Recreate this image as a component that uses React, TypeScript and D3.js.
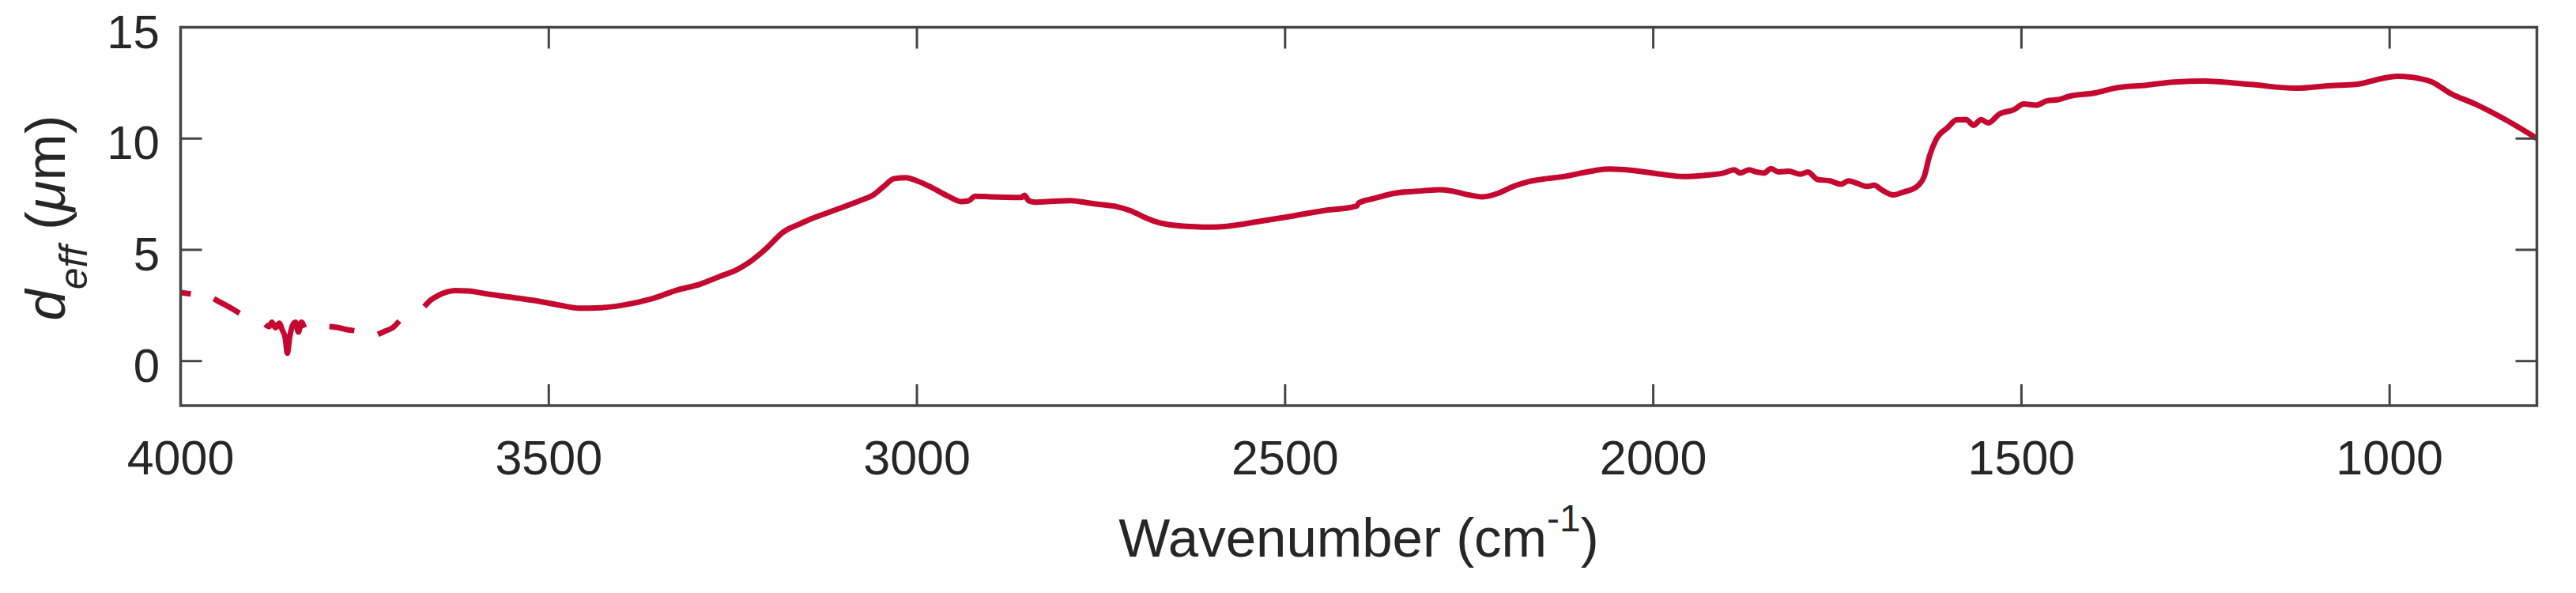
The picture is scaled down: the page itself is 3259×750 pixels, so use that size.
import React from "react";
import * as d3 from "d3";

// ---- data (wavenumber in cm^-1, d_eff in µm); NaN marks gaps in the measured trace ----
const wavenumber: number[] = [
  4000, 3986, 3980,
  3955, 3945, 3938, 3930, 3920, 3905,
  3885, 3880, 3876, 3871, 3866, 3862, 3858, 3855, 3852, 3848, 3844, 3840, 3836, 3832, 3815,
  3798, 3785, 3775, 3764, 3750,
  3732, 3722, 3712, 3703, 3690,
  3669, 3660, 3650, 3637, 3627, 3610, 3580, 3540, 3502, 3480, 3459, 3430, 3402, 3360, 3325,
  3295, 3268, 3245, 3230, 3205, 3181, 3160, 3143, 3110, 3076, 3060, 3045, 3031, 3015, 3000,
  2980, 2957, 2940, 2930, 2921, 2900, 2880, 2858, 2854, 2848, 2839, 2815, 2792, 2770, 2750,
  2729, 2710, 2690, 2672, 2650, 2630, 2609, 2590, 2567, 2540, 2490, 2450, 2403, 2400, 2380,
  2350, 2313, 2290, 2275, 2255, 2232, 2210, 2190, 2170, 2145, 2122, 2090, 2059, 2026, 1990,
  1959, 1930, 1905, 1890, 1882, 1870, 1860, 1850, 1840, 1830, 1816, 1800, 1790, 1777, 1760,
  1745, 1735, 1724, 1710, 1700, 1690, 1674, 1660, 1650, 1640, 1632, 1625, 1616, 1600, 1588,
  1575, 1565, 1555, 1545, 1530, 1510, 1497, 1480, 1465, 1450, 1435, 1400, 1374, 1330, 1292,
  1251, 1189, 1127, 1079, 1046, 1010, 990, 960, 943, 918, 883, 840, 800,
];
const deff: number[] = [
  3.08, 3.02, NaN,
  2.8, 2.62, 2.5, 2.35, 2.15, NaN,
  1.65, 1.55, 1.75, 1.5, 1.7, 1.4, 1.05, 0.35, 1.05, 1.6, 1.75, 1.3, 1.75, 1.5, NaN,
  1.55, 1.5, 1.42, 1.37, NaN,
  1.2, 1.35, 1.5, 1.8, NaN,
  2.45, 2.75, 2.95, 3.12, 3.17, 3.15, 3.0, 2.82, 2.62, 2.48, 2.38, 2.4, 2.5, 2.8, 3.2,
  3.45, 3.8, 4.1, 4.39, 5.05, 5.81, 6.15, 6.4, 6.8, 7.23, 7.45, 7.85, 8.2, 8.24, 8.1,
  7.8, 7.4, 7.17, 7.2, 7.41, 7.38, 7.36, 7.35, 7.45, 7.2, 7.14, 7.18, 7.21, 7.12, 7.03,
  6.94, 6.76, 6.45, 6.23, 6.1, 6.05, 6.02, 6.03, 6.11, 6.25, 6.52, 6.75, 6.97, 7.1, 7.3,
  7.55, 7.65, 7.7, 7.65, 7.5, 7.38, 7.55, 7.85, 8.06, 8.2, 8.29, 8.5, 8.63, 8.56, 8.4,
  8.29, 8.35, 8.45, 8.6, 8.45, 8.6, 8.5, 8.45, 8.65, 8.5, 8.53, 8.4, 8.5, 8.16, 8.1,
  7.95, 8.1, 8.0, 7.85, 7.9, 7.7, 7.47, 7.6, 7.7, 7.9, 8.3, 9.2, 9.95, 10.5, 10.84,
  10.85, 10.6, 10.85, 10.7, 11.1, 11.3, 11.55, 11.5, 11.7, 11.75, 11.9, 12.05, 12.26, 12.4, 12.54,
  12.58, 12.43, 12.26, 12.38, 12.43, 12.7, 12.8, 12.7, 12.55, 12.04, 11.54, 10.8, 10.01,
];
const xTicks: number[] = [4000, 3500, 3000, 2500, 2000, 1500, 1000];
const yTicks: number[] = [0, 5, 10, 15];
const xDomain: [number, number] = [4000, 800];
const yDomain: [number, number] = [-2, 15];

const W = 3259;
const H = 750;
const M = { left: 228.5, right: 3209.5, top: 34.5, bottom: 513 };
const FONT = "'Liberation Sans', Arial, Helvetica, sans-serif";
const AXIS = "#454545";
const TEXT = "#262626";
const RED = "#C5082F";

export default function App() {
  const x = d3.scaleLinear().domain(xDomain).range([M.left, M.right]);
  const y = d3.scaleLinear().domain(yDomain).range([M.bottom, M.top]);
  const pts = wavenumber.map((w, i) => [w, deff[i]] as [number, number]);
  const line = d3
    .line<[number, number]>()
    .defined((d) => !isNaN(d[1]))
    .x((d) => x(d[0]))
    .y((d) => y(d[1]))
    .curve(d3.curveMonotoneX);
  const tickLen = 27;

  return (
    <svg
      width={W}
      height={H}
      style={{ position: "absolute", left: 0, top: 0, background: "#fff" }}
      fontFamily={FONT}
    >
      <rect x={0} y={0} width={W} height={H} fill="#fff" />
      {/* data */}
      <path
        d={line(pts) || ""}
        fill="none"
        stroke={RED}
        strokeWidth={7}
        strokeLinejoin="round"
        strokeLinecap="butt"
      />
      {/* box */}
      <rect
        x={M.left}
        y={M.top}
        width={M.right - M.left}
        height={M.bottom - M.top}
        fill="none"
        stroke={AXIS}
        strokeWidth={3.5}
      />
      {/* x ticks */}
      {xTicks.map((t) => (
        <g key={"x" + t}>
          <line x1={x(t)} x2={x(t)} y1={M.bottom} y2={M.bottom - tickLen} stroke={AXIS} strokeWidth={3} />
          <line x1={x(t)} x2={x(t)} y1={M.top} y2={M.top + tickLen} stroke={AXIS} strokeWidth={3} />
          <text x={x(t)} y={600} textAnchor="middle" fontSize={61} fill={TEXT}>
            {t}
          </text>
        </g>
      ))}
      {/* y ticks */}
      {yTicks.map((t) => (
        <g key={"y" + t}>
          <line x1={M.left} x2={M.left + tickLen} y1={y(t)} y2={y(t)} stroke={AXIS} strokeWidth={3} />
          <line x1={M.right} x2={M.right - tickLen} y1={y(t)} y2={y(t)} stroke={AXIS} strokeWidth={3} />
          <text x={202} y={y(t) + 26} textAnchor="end" fontSize={60} fill={TEXT}>
            {t}
          </text>
        </g>
      ))}
      {/* x label */}
      <text x={(M.left + M.right) / 2} y={704} textAnchor="middle" fontSize={69} fill={TEXT}>
        Wavenumber (cm
        <tspan fontSize={48} dy={-32}>-1</tspan>
        <tspan dy={32}>)</tspan>
      </text>
      {/* y label */}
      <text
        transform={`translate(82, ${(M.top + M.bottom) / 2 + 2}) rotate(-90)`}
        textAnchor="middle"
        fontSize={71}
        fill={TEXT}
      >
        <tspan fontStyle="italic">d</tspan>
        <tspan fontStyle="italic" fontSize={50} dy={28}>eff</tspan>
        <tspan dy={-28}> (</tspan>
        <tspan fontStyle="italic">μ</tspan>
        <tspan>m)</tspan>
      </text>
    </svg>
  );
}
